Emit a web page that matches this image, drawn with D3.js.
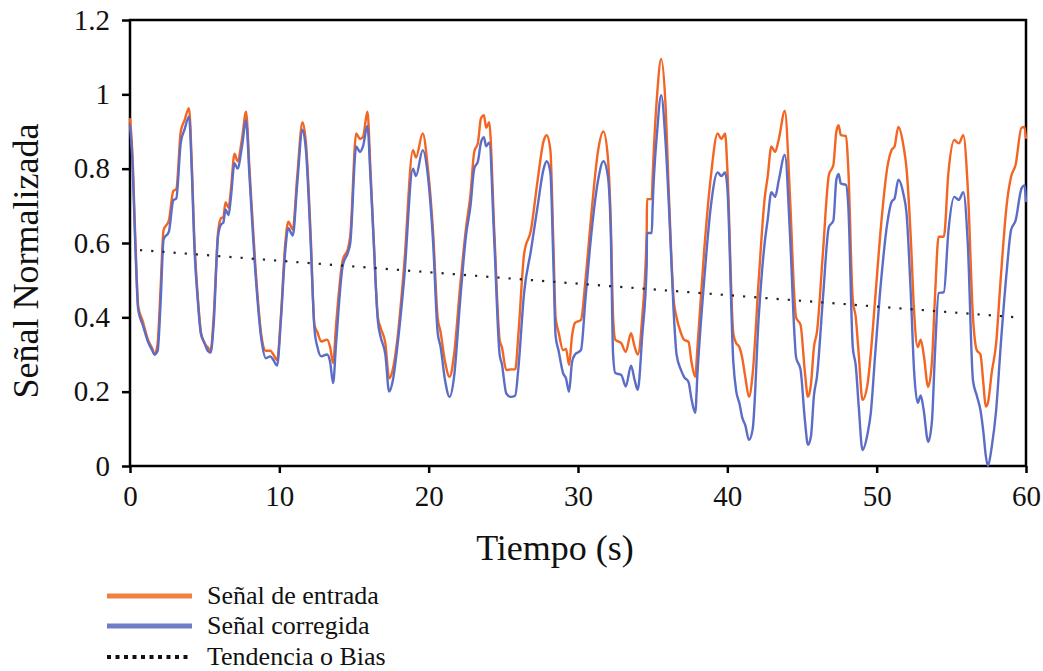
<!DOCTYPE html>
<html lang="es">
<head>
<meta charset="UTF-8">
<title>Señal Normalizada</title>
<style>
  body { margin: 0; background: #fff; }
  svg text { font-family: "Liberation Serif", "Times New Roman", serif !important; fill: #111; }
</style>
</head>
<body>
<script src="https://cdn.jsdelivr.net/npm/d3@7"></script>
<script>
// tiempo (s)
const tiempo = [
  0, 0.15, 0.35, 0.55, 0.85, 1.2, 1.5, 1.65, 1.85, 2.05, 2.25,
  2.6, 2.9, 3.1, 3.4, 3.65, 3.95, 4.15, 4.3, 4.55, 4.75, 5.0, 5.2, 5.4,
  5.6, 5.9, 6.1, 6.25, 6.4, 6.6, 6.75, 7.0, 7.2, 7.5, 7.77, 8.0,
  8.4, 8.8, 9.1, 9.4, 9.6, 9.85, 10.1, 10.4, 10.6, 10.9, 11.2, 11.55, 11.8,
  12.1, 12.35, 12.55, 12.8, 13.2, 13.4, 13.6, 13.8, 14.25, 14.6, 14.75,
  15.15, 15.4, 15.6, 15.9, 16.1, 16.3, 16.6, 16.8, 17.1, 17.35, 17.6, 17.9,
  18.35, 18.95, 19.15, 19.6, 19.95, 20.3, 20.6, 20.8, 21.1, 21.4, 21.7,
  22.1, 22.5, 22.8, 23.05, 23.3, 23.5, 23.7, 23.85, 24.05, 24.4, 24.75, 24.9, 25.2, 25.5, 25.8,
  26.0, 26.4, 26.85, 27.3, 27.7, 27.9, 28.15, 28.35, 28.5, 28.7, 29.0, 29.2, 29.4, 29.6, 29.8,
  30.2, 30.5, 30.9, 31.35, 31.7, 32.0, 32.2, 32.35, 32.5, 32.9, 33.2, 33.55, 33.8, 34.0,
  34.3, 34.6, 34.62, 34.94, 35.0, 35.3, 35.57, 35.85, 36.1, 36.4, 36.6, 36.9, 37.1, 37.4, 37.6, 37.85,
  38.0, 38.45, 38.9, 39.35, 39.6, 39.85, 40.0, 40.4, 40.6, 40.8, 41.0, 41.2, 41.45, 41.7,
  42.1, 42.5, 42.7, 42.95, 43.2, 43.45, 43.85, 44.2, 44.5, 44.6, 44.9, 45.2, 45.4, 45.6, 45.8, 46.0,
  46.4, 46.8, 47.1, 47.3, 47.45, 47.6, 47.95, 48.1, 48.4, 48.6, 48.8, 49.05, 49.4, 49.6, 49.9,
  50.3, 50.7, 51.0, 51.2, 51.45, 51.8, 52.0, 52.3, 52.5, 52.75, 52.95, 53.15, 53.45, 53.7,
  53.9, 54.15, 54.5, 54.8, 55.2, 55.5, 55.8, 56.1, 56.45, 56.7, 56.95, 57.15, 57.3, 57.45, 57.7,
  58.0, 58.3, 58.7, 59.0, 59.3, 59.7, 59.9, 60.0
];

// señal de entrada
const entrada = [
  0.936, 0.85, 0.62, 0.43, 0.39, 0.34, 0.315, 0.30, 0.33, 0.48, 0.635,
  0.66, 0.74, 0.745, 0.90, 0.93, 0.963, 0.80, 0.62, 0.45, 0.36, 0.33, 0.32, 0.31,
  0.40, 0.63, 0.667, 0.67, 0.71, 0.695, 0.74, 0.84, 0.82, 0.88, 0.953, 0.80,
  0.535, 0.35, 0.31, 0.31, 0.30, 0.285, 0.40, 0.60, 0.657, 0.637, 0.78, 0.925, 0.86,
  0.62, 0.38, 0.36, 0.335, 0.34, 0.32, 0.277, 0.38, 0.555, 0.585, 0.62,
  0.895, 0.88, 0.885, 0.953, 0.80, 0.627, 0.40, 0.37, 0.33, 0.236, 0.26, 0.34,
  0.535, 0.85, 0.83, 0.895, 0.80, 0.627, 0.40, 0.36, 0.28, 0.24, 0.30,
  0.48, 0.64, 0.73, 0.845, 0.87, 0.935, 0.944, 0.91, 0.925, 0.627, 0.34, 0.32, 0.258, 0.26, 0.26,
  0.35, 0.573, 0.635, 0.77, 0.875, 0.89, 0.85, 0.60, 0.40, 0.36, 0.312, 0.315, 0.272, 0.35, 0.385,
  0.393, 0.50, 0.68, 0.85, 0.90, 0.83, 0.65, 0.40, 0.34, 0.33, 0.307, 0.357, 0.32, 0.30,
  0.40, 0.63, 0.718, 0.718, 0.78, 1.0, 1.095, 0.98, 0.716, 0.45, 0.40, 0.357, 0.34, 0.334, 0.28, 0.24,
  0.32, 0.58, 0.78, 0.895, 0.88, 0.895, 0.80, 0.357, 0.33, 0.32, 0.29, 0.24, 0.186, 0.25,
  0.50, 0.72, 0.778, 0.86, 0.845, 0.88, 0.955, 0.72, 0.447, 0.40, 0.38, 0.25, 0.186, 0.22, 0.32, 0.36,
  0.573, 0.783, 0.81, 0.90, 0.917, 0.89, 0.888, 0.80, 0.447, 0.40, 0.30, 0.178, 0.223, 0.30, 0.45,
  0.65, 0.80, 0.85, 0.86, 0.912, 0.86, 0.80, 0.60, 0.42, 0.32, 0.34, 0.30, 0.213, 0.28,
  0.45, 0.617, 0.617, 0.787, 0.877, 0.868, 0.89, 0.75, 0.40, 0.312, 0.30, 0.22, 0.16, 0.17, 0.25,
  0.33, 0.50, 0.70, 0.778, 0.81, 0.91, 0.912, 0.88
];

// señal corregida
const corregida = [
  0.917, 0.83, 0.60, 0.42, 0.38, 0.335, 0.31, 0.30, 0.31, 0.44, 0.61,
  0.63, 0.715, 0.72, 0.87, 0.905, 0.94, 0.78, 0.60, 0.44, 0.355, 0.33, 0.31, 0.305,
  0.38, 0.62, 0.65, 0.655, 0.69, 0.675, 0.72, 0.815, 0.80, 0.86, 0.93, 0.78,
  0.52, 0.34, 0.29, 0.295, 0.285, 0.27, 0.39, 0.58, 0.64, 0.62, 0.76, 0.905, 0.84,
  0.60, 0.37, 0.32, 0.295, 0.30, 0.28, 0.223, 0.33, 0.54, 0.575, 0.60,
  0.86, 0.845, 0.86, 0.915, 0.78, 0.62, 0.39, 0.345, 0.30, 0.20, 0.23, 0.32,
  0.50, 0.80, 0.78, 0.85, 0.78, 0.60, 0.36, 0.32, 0.23, 0.186, 0.24,
  0.44, 0.62, 0.70, 0.80, 0.82, 0.87, 0.885, 0.86, 0.87, 0.60, 0.30, 0.275, 0.195, 0.186, 0.19,
  0.26, 0.47, 0.58, 0.70, 0.80, 0.82, 0.79, 0.55, 0.35, 0.31, 0.25, 0.235, 0.20, 0.28, 0.30,
  0.312, 0.45, 0.627, 0.77, 0.82, 0.78, 0.62, 0.30, 0.25, 0.245, 0.214, 0.27, 0.23, 0.205,
  0.35, 0.54, 0.627, 0.627, 0.70, 0.90, 0.998, 0.88, 0.69, 0.42, 0.30, 0.258, 0.24, 0.226, 0.18, 0.143,
  0.25, 0.50, 0.70, 0.79, 0.78, 0.79, 0.75, 0.28, 0.20, 0.17, 0.13, 0.11, 0.07, 0.10,
  0.40, 0.60, 0.662, 0.737, 0.724, 0.77, 0.837, 0.62, 0.35, 0.293, 0.26, 0.12, 0.057, 0.08, 0.19, 0.24,
  0.45, 0.643, 0.66, 0.77, 0.786, 0.76, 0.756, 0.70, 0.32, 0.27, 0.16, 0.043, 0.089, 0.14, 0.30,
  0.50, 0.65, 0.711, 0.72, 0.77, 0.73, 0.68, 0.45, 0.26, 0.17, 0.19, 0.15, 0.065, 0.12,
  0.30, 0.465, 0.468, 0.63, 0.724, 0.716, 0.737, 0.60, 0.23, 0.19, 0.15, 0.09, 0.03, 0.0, 0.05,
  0.15, 0.32, 0.52, 0.635, 0.66, 0.747, 0.755, 0.71
];

// tendencia o bias (recta)
const tendenciaT = [0.67, 59.4];
const tendenciaV = [0.581, 0.40];

const xTicks = [0, 10, 20, 30, 40, 50, 60];
const yTicks = [0, 0.2, 0.4, 0.6, 0.8, 1, 1.2];
const leyenda = ["Señal de entrada", "Señal corregida", "Tendencia o Bias"];

const width = 1043, height = 671;
const serif = "'Liberation Serif', 'Times New Roman', serif";
const colEntrada = "#F26522", colCorregida = "#5B6DC6";

const svg = d3.select("body").append("svg")
  .attr("width", width)
  .attr("height", height)
  .style("font-family", serif);

const x = d3.scaleLinear().domain([0, 60]).range([130, 1026]);
const y = d3.scaleLinear().domain([0, 1.2]).range([466, 20]);

// ejes
const xAxis = svg.append("g")
  .attr("transform", "translate(0,466)")
  .call(d3.axisBottom(x).tickValues(xTicks).tickFormat(d3.format("d")).tickSize(7).tickSizeOuter(0).tickPadding(12));
const yAxis = svg.append("g")
  .attr("transform", "translate(130,0)")
  .call(d3.axisLeft(y).tickValues(yTicks).tickFormat(d => d === 0 || d === 1 ? d3.format("d")(d) : d3.format(".1f")(d)).tickSize(8).tickSizeOuter(0).tickPadding(12));

[xAxis, yAxis].forEach(g => {
  g.attr("font-family", serif).attr("font-size", 29);
  g.selectAll("path.domain").remove();
  g.selectAll("line").attr("stroke", "#000").attr("stroke-width", 2.5);
  g.selectAll("text").style("font-family", serif).style("font-size", "29px").attr("fill", "#111");
});

// marco
svg.append("rect")
  .attr("x", x(0)).attr("y", y(1.2))
  .attr("width", x(60) - x(0)).attr("height", y(0) - y(1.2))
  .attr("fill", "none").attr("stroke", "#000").attr("stroke-width", 2.5);

const line = d3.line()
  .x(d => x(d[0]))
  .y(d => y(d[1]))
  .curve(d3.curveMonotoneX);

const plot = svg.append("g");

plot.append("path")
  .datum(d3.zip(tiempo, entrada))
  .attr("d", line)
  .attr("fill", "none")
  .attr("stroke", colEntrada)
  .attr("stroke-width", 2.4)
  .attr("stroke-linejoin", "round");

plot.append("path")
  .datum(d3.zip(tiempo, corregida))
  .attr("d", line)
  .attr("fill", "none")
  .attr("stroke", colCorregida)
  .attr("stroke-width", 2.4)
  .attr("stroke-linejoin", "round");

plot.append("path")
  .datum(d3.zip(tendenciaT, tendenciaV))
  .attr("d", d3.line().x(d => x(d[0])).y(d => y(d[1])))
  .attr("fill", "none")
  .attr("stroke", "#222")
  .attr("stroke-width", 2.2)
  .attr("stroke-dasharray", "2.2,9");

// títulos de ejes
svg.append("text")
  .attr("x", 555).attr("y", 560)
  .attr("text-anchor", "middle")
  .style("font-family", serif)
  .style("font-size", "36px")
  .text("Tiempo (s)");

svg.append("text")
  .attr("transform", "translate(38,261) rotate(-90)")
  .attr("text-anchor", "middle")
  .style("font-family", serif)
  .style("font-size", "36px")
  .text("Señal Normalizada");

// leyenda
const legY = [596, 626, 657];
const legStyle = [
  { stroke: "#F0803E", width: 5, dash: null },
  { stroke: "#6E7DC5", width: 5, dash: null },
  { stroke: "#111", width: 4, dash: "4,4.5" }
];
const leg = svg.append("g");
leyenda.forEach((name, i) => {
  leg.append("line")
    .attr("x1", 107).attr("x2", 192)
    .attr("y1", legY[i]).attr("y2", legY[i])
    .attr("stroke", legStyle[i].stroke)
    .attr("stroke-width", legStyle[i].width)
    .attr("stroke-dasharray", legStyle[i].dash);
  leg.append("text")
    .attr("x", 207).attr("y", legY[i] + 8)
    .style("font-family", serif)
    .style("font-size", "26px")
    .text(name);
});
</script>
</body>
</html>
